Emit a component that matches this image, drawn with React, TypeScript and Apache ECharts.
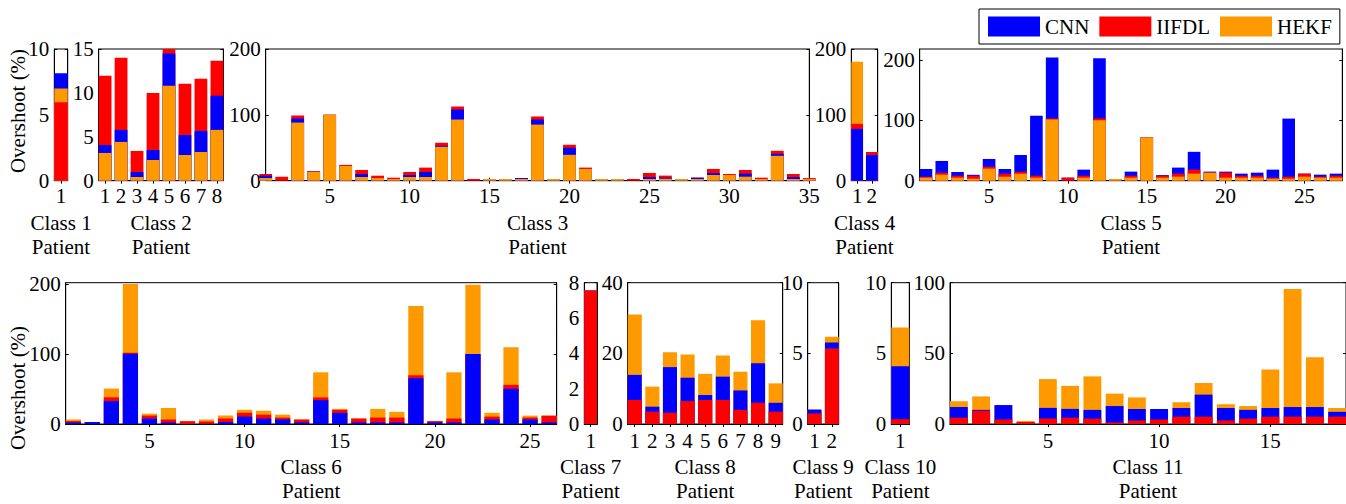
import React, { useEffect, useRef } from "react";
import * as echarts from "echarts";

// ---------- data (segment heights of the stacked bars, % overshoot) ----------
const seriesNames = ["CNN", "IIFDL", "HEKF"];

const class1Cnn = [1.15];
const class1Iifdl = [5.95];
const class1Hekf = [1.05];

const class2Cnn = [0.91, 1.37, 0.57, 1.14, 3.69, 2.27, 2.4, 3.88];
const class2Iifdl = [7.88, 8.21, 2.4, 6.5, 0.5, 5.84, 5.93, 4.0];
const class2Hekf = [3.16, 4.42, 0.42, 2.36, 10.81, 2.93, 3.27, 5.79];

const class3Cnn = [3.6, 0, 6.1, 0.5, 0, 0, 4.6, 0, 0, 3.1, 7.7, 1.5, 15.3, 0, 0, 0, 1.4, 7.7, 0, 10.7, 0, 0, 0, 0, 3, 1.6, 0, 2, 3, 0, 4.6, 0, 3, 3, 0];
const class3Iifdl = [2.6, 6, 4.6, 0.5, 0, 1.6, 6.1, 3.6, 2, 4.6, 6.6, 4.6, 4.6, 2.6, 0, 0, 0, 4.5, 0, 4.6, 2, 0, 0, 2.6, 6.1, 3.1, 0, 0, 6.2, 1.5, 5.6, 2, 4.6, 4.6, 1.4];
const class3Hekf = [4, 0, 88.3, 13.8, 100, 22.4, 5.6, 4, 2.6, 5.6, 5.6, 51.5, 92.9, 0, 2.6, 2.6, 2.6, 85.2, 2.6, 39.3, 17.9, 2.6, 2.6, 0, 2.6, 3, 2.6, 2.6, 8.7, 8.7, 6.1, 2.6, 37.8, 2.6, 2.6];

const class4Cnn = [78.7, 39];
const class4Iifdl = [7.6, 4.6];
const class4Hekf = [94.4, 0];

const class5Cnn = [12.8, 19.4, 6.1, 1.5, 12.7, 7.8, 27.7, 99.2, 100.9, 0, 10, 99.5, 0, 6.7, 0, 1, 10, 29.5, 1.7, 1.7, 3.4, 5, 13.3, 96.1, 0, 3.3, 3.4];
const class5Iifdl = [1.6, 3.3, 3.3, 5, 3.3, 5, 3.3, 3.3, 1.6, 5, 3.3, 3.3, 0, 3.3, 0, 3.3, 5, 6.6, 0, 8.3, 3.3, 3.3, 1.7, 3.4, 5, 1.7, 3.3];
const class5Hekf = [5, 10, 5, 3.3, 20, 6.6, 11.6, 5, 101.4, 0, 5, 100, 2.8, 5, 71.7, 5, 6.7, 11.7, 13.3, 5, 5, 5, 3.3, 3.3, 6.7, 5, 5];

const class6Cnn = [2.3, 2.8, 32.7, 100.5, 7.8, 2.3, 0, 0.5, 2.8, 10.6, 7.8, 6.5, 2.3, 34, 16, 2.3, 2.3, 2.3, 65.6, 2.3, 2.3, 100, 6.4, 50.5, 6.4, 2.3];
const class6Iifdl = [1.8, 0, 5.5, 1.3, 4.2, 4.2, 4.1, 3.2, 5, 5.5, 5.6, 2.7, 4.1, 4, 4.2, 5.5, 6.9, 6.9, 4.1, 1.8, 5.5, 0, 4.2, 5.5, 2.8, 9.6];
const class6Hekf = [2.4, 0, 12.5, 98.2, 2.7, 16.5, 0, 2.8, 4.2, 4.2, 5.5, 4.2, 0, 35.9, 1.4, 0, 12.4, 8.2, 99.1, 0, 66.1, 99, 5.4, 53.6, 2.7, 0];

const class7Cnn = [0];
const class7Iifdl = [7.56];
const class7Hekf = [0];

const class8Cnn = [7.1, 1.4, 12.9, 6.6, 1.4, 6.6, 5.5, 11.2, 2.5];
const class8Iifdl = [6.8, 3.5, 3.2, 6.5, 6.8, 6.8, 4.0, 6.0, 3.5];
const class8Hekf = [17.1, 5.7, 4.2, 6.6, 6.0, 6.0, 5.3, 12.2, 5.5];

const class9Cnn = [0.27, 0.42];
const class9Iifdl = [0.75, 5.34];
const class9Hekf = [0, 0.41];

const class10Cnn = [3.75];
const class10Iifdl = [0.34];
const class10Hekf = [2.74];

const class11Cnn = [7.5, 0.7, 10.2, 0, 7.5, 6.2, 6.2, 11.6, 8.1, 7.4, 6.1, 15.6, 8.8, 6.2, 6.1, 6.8, 6.8, 3.4];
const class11Iifdl = [4.5, 9.3, 3.2, 1.4, 3.9, 4.5, 3.8, 1.1, 2.5, 3.2, 5.2, 5.2, 2.5, 3.8, 5.2, 5.2, 5.2, 5.2];
const class11Hekf = [4.1, 9.5, 0, 0.8, 20.4, 16.3, 23.7, 8.8, 8.2, 0, 4.1, 8.2, 2.7, 2.7, 27.2, 83.5, 35.3, 2.7];

// tick labels
const ticks1to8 = [1, 2, 3, 4, 5, 6, 7, 8];
const ticks1to9 = [1, 2, 3, 4, 5, 6, 7, 8, 9];
const ticksBy5To35 = [5, 10, 15, 20, 25, 30, 35];
const ticksBy5To25 = [5, 10, 15, 20, 25];
const ticksBy5To15 = [5, 10, 15];
const yTicks10 = [0, 5, 10];
const yTicks15 = [0, 5, 10, 15];
const yTicks200 = [0, 100, 200];
const yTicks8 = [0, 2, 4, 6, 8];
const yTicks40 = [0, 20, 40];
const yTicks100 = [0, 50, 100];

// stacking order (bottom -> top) as drawn in each panel
const panelsData = [
  { label: "Class 1", CNN: class1Cnn, IIFDL: class1Iifdl, HEKF: class1Hekf, order: ["IIFDL", "HEKF", "CNN"], xTicks: [1], yTicks: yTicks10, yMax: 10 },
  { label: "Class 2", CNN: class2Cnn, IIFDL: class2Iifdl, HEKF: class2Hekf, order: ["HEKF", "CNN", "IIFDL"], xTicks: ticks1to8, yTicks: yTicks15, yMax: 15 },
  { label: "Class 3", CNN: class3Cnn, IIFDL: class3Iifdl, HEKF: class3Hekf, order: ["HEKF", "CNN", "IIFDL"], xTicks: ticksBy5To35, yTicks: yTicks200, yMax: 200 },
  { label: "Class 4", CNN: class4Cnn, IIFDL: class4Iifdl, HEKF: class4Hekf, order: ["CNN", "IIFDL", "HEKF"], xTicks: [1, 2], yTicks: yTicks200, yMax: 200 },
  { label: "Class 5", CNN: class5Cnn, IIFDL: class5Iifdl, HEKF: class5Hekf, order: ["HEKF", "IIFDL", "CNN"], xTicks: ticksBy5To25, yTicks: yTicks200, yMax: 218 },
  { label: "Class 6", CNN: class6Cnn, IIFDL: class6Iifdl, HEKF: class6Hekf, order: ["CNN", "IIFDL", "HEKF"], xTicks: ticksBy5To25, yTicks: yTicks200, yMax: 202 },
  { label: "Class 7", CNN: class7Cnn, IIFDL: class7Iifdl, HEKF: class7Hekf, order: ["IIFDL", "CNN", "HEKF"], xTicks: [1], yTicks: yTicks8, yMax: 8 },
  { label: "Class 8", CNN: class8Cnn, IIFDL: class8Iifdl, HEKF: class8Hekf, order: ["IIFDL", "CNN", "HEKF"], xTicks: ticks1to9, yTicks: yTicks40, yMax: 40 },
  { label: "Class 9", CNN: class9Cnn, IIFDL: class9Iifdl, HEKF: class9Hekf, order: ["IIFDL", "CNN", "HEKF"], xTicks: [1, 2], yTicks: yTicks10, yMax: 10 },
  { label: "Class 10", CNN: class10Cnn, IIFDL: class10Iifdl, HEKF: class10Hekf, order: ["IIFDL", "CNN", "HEKF"], xTicks: [1], yTicks: yTicks10, yMax: 10 },
  { label: "Class 11", CNN: class11Cnn, IIFDL: class11Iifdl, HEKF: class11Hekf, order: ["IIFDL", "CNN", "HEKF"], xTicks: ticksBy5To15, yTicks: yTicks100, yMax: 100 },
];

// ---------- layout / style ----------
const ROWS = [
  { top: 49, bottom: 180.7, labelMargin: 5, nameGap: 30, yLabelCenter: 111 },
  { top: 282.7, bottom: 428.7, labelMargin: 6, nameGap: 31, yLabelCenter: 388 },
];
const LAYOUT = [
  { left: 54.3, right: 67.7, row: 0, xMin: 0.6, xMax: 1.4 },
  { left: 98.7, right: 223.3, row: 0, xMin: 0.6, xMax: 8.4 },
  { left: 265.7, right: 809.3, row: 0, xMin: 1, xMax: 35 },
  { left: 851.3, right: 877.7, row: 0, xMin: 0.6, xMax: 2.4 },
  { left: 919.7, right: 1342.3, row: 0, xMin: 0.6, xMax: 27.4 },
  { left: 65.7, right: 556.7, row: 1, xMin: 0.6, xMax: 26.4 },
  { left: 584.3, right: 597, row: 1, xMin: 0.6, xMax: 1.4 },
  { left: 627.7, right: 782.7, row: 1, xMin: 0.6, xMax: 9.4 },
  { left: 807.7, right: 838.7, row: 1, xMin: 0.6, xMax: 2.4 },
  { left: 891.3, right: 909.3, row: 1, xMin: 0.6, xMax: 1.4 },
  { left: 950, right: 1347, row: 1, xMin: 0.6, xMax: 18.4 },
];
const COLORS: Record<string, string> = { CNN: "#0000FF", IIFDL: "#FF0000", HEKF: "#FF9900" };
const FONT = "Liberation Serif, serif";
const FS = 21;

function buildOption() {
  const grid: any[] = [];
  const xAxis: any[] = [];
  const yAxis: any[] = [];
  const series: any[] = [];
  const tickStyle = { show: true, inside: true, length: 3, lineStyle: { color: "#000", width: 1 } };
  const lineStyle = { show: true, lineStyle: { color: "#000", width: 1 } };
  const labelStyle = { fontFamily: FONT, fontSize: FS, color: "#000" };

  panelsData.forEach((p, i) => {
    const L = LAYOUT[i];
    const R = ROWS[L.row];
    const w = L.right - L.left;
    const h = R.bottom - R.top;
    grid.push({ left: L.left, top: R.top, width: w, height: h, show: true, borderColor: "#000", borderWidth: 1, backgroundColor: "transparent" });
    xAxis.push({
      gridIndex: i, type: "value", position: "bottom", min: L.xMin, max: L.xMax,
      axisLine: lineStyle, axisTick: { ...tickStyle, customValues: p.xTicks },
      axisLabel: { ...labelStyle, customValues: p.xTicks, margin: R.labelMargin },
      splitLine: { show: false },
      name: p.label + "\nPatient", nameLocation: "middle", nameGap: R.nameGap,
      nameTextStyle: { ...labelStyle, lineHeight: 24 },
    });
    xAxis.push({
      gridIndex: i, type: "value", position: "top", min: L.xMin, max: L.xMax,
      axisLine: lineStyle, axisTick: { ...tickStyle, customValues: p.xTicks },
      axisLabel: { show: false }, splitLine: { show: false },
    });
    yAxis.push({
      gridIndex: i, type: "value", position: "left", min: 0, max: p.yMax,
      axisLine: lineStyle, axisTick: { ...tickStyle, customValues: p.yTicks },
      axisLabel: { ...labelStyle, customValues: p.yTicks, margin: 5 },
      splitLine: { show: false },
    });
    yAxis.push({
      gridIndex: i, type: "value", position: "right", min: 0, max: p.yMax,
      axisLine: lineStyle, axisTick: { ...tickStyle, customValues: p.yTicks },
      axisLabel: { show: false }, splitLine: { show: false },
    });
    const unit = w / (L.xMax - L.xMin);
    // cumulative tops for each stacked segment; drawn top-most first so that
    // every lower segment is painted over it (same look as a stack)
    const n = (p as any)[p.order[0]].length;
    const cum: number[][] = [];
    p.order.forEach((name, k) => {
      const vals: number[] = (p as any)[name];
      cum.push(vals.map((v, j) => v + (k > 0 ? cum[k - 1][j] : 0)));
    });
    for (let k = p.order.length - 1; k >= 0; k--) {
      const name = p.order[k];
      series.push({
        type: "bar", name,
        xAxisIndex: 2 * i, yAxisIndex: 2 * i,
        barWidth: unit * 0.8, barGap: "-100%",
        data: cum[k].slice(0, n).map((v, j) => [j + 1, v]),
        itemStyle: { color: COLORS[name] },
        emphasis: { disabled: true },
        clip: true,
      });
    }
  });

  const yLabels = ROWS.map((r) => ({
    type: "text", x: 18, y: r.yLabelCenter, rotation: Math.PI / 2,
    style: { text: "Overshoot (%)", fontFamily: FONT, fontSize: FS, fill: "#000", align: "center", verticalAlign: "middle" },
  }));

  return {
    animation: false,
    backgroundColor: "#fff",
    textStyle: { fontFamily: FONT },
    grid, xAxis, yAxis, series,
    legend: {
      data: seriesNames, left: 979, top: 9, orient: "horizontal",
      icon: "rect", itemWidth: 52, itemHeight: 20, itemGap: 10,
      padding: [7, 8, 7, 9], borderColor: "#000", borderWidth: 1,
      backgroundColor: "#fff", textStyle: { ...labelStyle },
    },
    graphic: yLabels,
  };
}

export default function App() {
  const ref = useRef<HTMLDivElement>(null);
  useEffect(() => {
    document.body.style.margin = "0";
    if (!ref.current) return;
    const chart = echarts.init(ref.current, null, { renderer: "svg" });
    chart.setOption(buildOption() as any);
    return () => chart.dispose();
  }, []);
  return <div ref={ref} style={{ width: 1346, height: 504 }} />;
}
